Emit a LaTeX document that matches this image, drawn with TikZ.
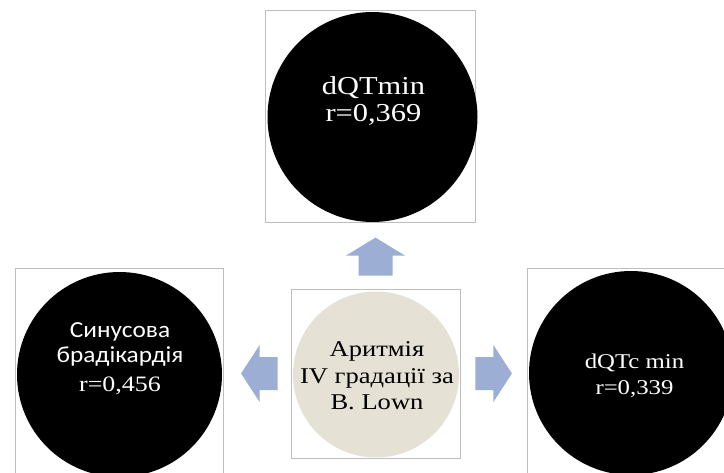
\documentclass[tikz,border=0pt]{standalone}
\usepackage{fontspec}
\setmainfont{Liberation Serif}[FakeStretch=1.18]
\newfontfamily\sansfnt{Carlito}[FakeStretch=1.1]
\usetikzlibrary{calc,positioning}
\definecolor{bArrow}{RGB}{156,174,212}
\definecolor{bSand}{RGB}{229,225,213}
\definecolor{bFrame}{RGB}{190,190,190}
\tikzset{
    boxframe/.style={draw=bFrame, line width=0.8pt, inner sep=0pt},
    disc/.style={circle, fill=black, inner sep=0pt},
    discText/.style={text=white, align=center, inner sep=0pt},
    blockarrow/.style={fill=bArrow}
}

\begin{document}
\begin{tikzpicture}[x=1pt, y=-1pt]
    \useasboundingbox (0,0) rectangle (724,472);
    \clip (0,0) rectangle (724,472);
    \fill[white] (0,0) rectangle (724,472);

    \node[boxframe, minimum width=210pt, minimum height=212pt] (topBox) at (370,116) {};
    \node[boxframe, minimum width=208pt, minimum height=208pt] (leftBox) at (119,372) {};
    \node[boxframe, minimum width=208pt, minimum height=208pt] (rightBox) at (631,372) {};
    \node[boxframe, minimum width=169pt, minimum height=169pt] (midBox) at (375.5,373.5) {};

    \node[disc, minimum size=210pt] (topDisc) at (372.5,117) {};
    \node[disc, minimum size=205pt] (leftDisc) at (119.5,374.5) {};
    \node[disc, minimum size=204pt] (rightDisc) at (631,373) {};
    \node[circle, fill=bSand, inner sep=0pt, minimum size=166pt] (midDisc) at (376,374.5) {};

    \node[discText, font=\fontsize{25.8}{27}\selectfont] (topText) at (373.5,101) {dQTmin\\r=0,369};
    \node[discText, font=\sansfnt\fontsize{23}{25}\selectfont] (leftText) at (120,359)
        {Синусова\\брадікардія\\[4pt]{\rmfamily\fontsize{22}{25}\selectfont r=0,456}};
    \node[discText, font=\fontsize{21}{26}\selectfont] (rightText) at (634.5,375.5) {dQTc min\\r=0,339};
    \node[align=center, inner sep=0pt, font=\fontsize{22.5}{26.5}\selectfont] (midText) at (377,376)
        {Аритмія\\IV градації за\\B. Lown};

    \fill[blockarrow] ($(midBox.north)+(-17,-13)$) -- ++(0,-20) -- ++(-12.5,0) -- ++(29.5,-18)
        -- ++(29.5,18) -- ++(-12.5,0) -- ++(0,20) -- cycle;
    \fill[blockarrow] ($(midBox.west)+(-13,-16.5)$) -- ++(-18,0) -- ++(0,-12) -- ++(-18.5,28.5)
        -- ++(18.5,28.5) -- ++(0,-12) -- ++(18,0) -- cycle;
    \fill[blockarrow] ($(midBox.east)+(15,-16.5)$) -- ++(18,0) -- ++(0,-12) -- ++(18.5,28.5)
        -- ++(-18.5,28.5) -- ++(0,-12) -- ++(-18,0) -- cycle;
\end{tikzpicture}
\end{document}
